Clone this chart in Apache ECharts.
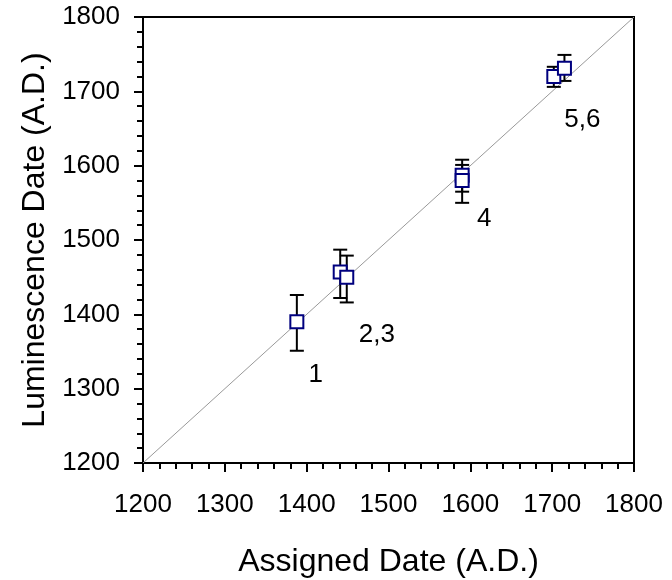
<!DOCTYPE html>
<html>
<head>
<meta charset="utf-8">
<script src="https://cdn.jsdelivr.net/npm/echarts@6/dist/echarts.min.js"></script>
<style>
  html, body { margin: 0; padding: 0; background: #fff; }
  #chart { width: 672px; height: 580px; }
</style>
</head>
<body>
<div id="chart"></div>
<script>
// Sample dates: assigned (historical) vs. luminescence-derived, with 1-sigma errors
const sampleIds    = ['1', '2', '3', '4a', '4b', '5', '6'];
const assignedDate = [1388, 1441, 1449, 1590, 1590, 1702, 1715];
const lumDate      = [1390, 1457, 1450, 1587, 1580, 1720, 1731];
const lumErrLow    = [1351, 1422, 1416, 1565, 1550, 1706, 1714];
const lumErrHigh   = [1426, 1487, 1479, 1608, 1601, 1733, 1749];
// Group labels drawn next to selected samples
const groupLabel   = ['1', '', '2,3', '', '4', '', '5,6'];
const labelOffset  = [[19, 53], null, [30, 58], null, [22, 38], null, [18, 52]];

const axisTicks = [1200, 1300, 1400, 1500, 1600, 1700, 1800];
const equalityLine = [[1200, 1200], [1800, 1800]];

const FONT = 'Liberation Sans, Arial, sans-serif';

const chart = echarts.init(document.getElementById('chart'));

const pointData = assignedDate.map((x, i) => {
  const d = { value: [x, lumDate[i]], name: sampleIds[i] };
  if (groupLabel[i]) {
    d.label = {
      show: true,
      formatter: groupLabel[i],
      position: 'inside',
      offset: labelOffset[i],
      color: '#000',
      fontSize: 26,
      fontFamily: FONT
    };
  }
  return d;
});

const errData = assignedDate.map((x, i) => [x, lumErrLow[i], lumErrHigh[i]]);

function axisCommon() {
  return {
    type: 'value',
    min: axisTicks[0],
    max: axisTicks[axisTicks.length - 1],
    interval: 100,
    axisLine: { show: true, onZero: false, lineStyle: { color: '#000', width: 2 } },
    axisTick: { show: true, inside: false, length: 9, lineStyle: { color: '#000', width: 2 } },
    minorTick: { show: true, splitNumber: 5, length: 6, lineStyle: { color: '#000', width: 2 } },
    splitLine: { show: false },
    axisLabel: {
      color: '#000', fontSize: 26, fontFamily: FONT,
      formatter: v => String(v)
    },
    nameLocation: 'middle',
    nameTextStyle: { color: '#000', fontSize: 32, fontFamily: FONT }
  };
}

const xAxis = Object.assign(axisCommon(), { name: 'Assigned Date (A.D.)', nameGap: 83 });
xAxis.axisLabel.margin = 29;
const yAxis = Object.assign(axisCommon(), { name: 'Luminescence Date (A.D.)', nameGap: 91 });
yAxis.axisLabel.margin = 23;

chart.setOption({
  animation: false,
  backgroundColor: '#fff',
  grid: {
    left: 143, top: 17, right: 38, bottom: 117,
    containLabel: false,
    outerBoundsMode: 'none',
    show: true, borderColor: '#000', borderWidth: 2, backgroundColor: 'transparent'
  },
  xAxis: xAxis,
  yAxis: yAxis,
  series: [
    {
      type: 'line',
      data: equalityLine,
      symbol: 'none',
      silent: true,
      lineStyle: { color: '#999', width: 1 },
      z: 1
    },
    {
      type: 'custom',
      data: errData,
      z: 2,
      renderItem: function (params, api) {
        const x = api.value(0);
        const lo = api.coord([x, api.value(1)]);
        const hi = api.coord([x, api.value(2)]);
        const half = 7;
        const style = { stroke: '#000', lineWidth: 2 };
        return {
          type: 'group',
          children: [
            { type: 'line', shape: { x1: lo[0], y1: lo[1], x2: hi[0], y2: hi[1] }, style: style },
            { type: 'line', shape: { x1: lo[0] - half, y1: lo[1], x2: lo[0] + half, y2: lo[1] }, style: style },
            { type: 'line', shape: { x1: hi[0] - half, y1: hi[1], x2: hi[0] + half, y2: hi[1] }, style: style }
          ]
        };
      }
    },
    {
      type: 'scatter',
      data: pointData,
      symbol: 'rect',
      symbolSize: 13,
      z: 3,
      itemStyle: { color: '#fff', borderColor: '#00007f', borderWidth: 2, opacity: 1 },
      label: { show: false }
    }
  ]
});
</script>
</body>
</html>
